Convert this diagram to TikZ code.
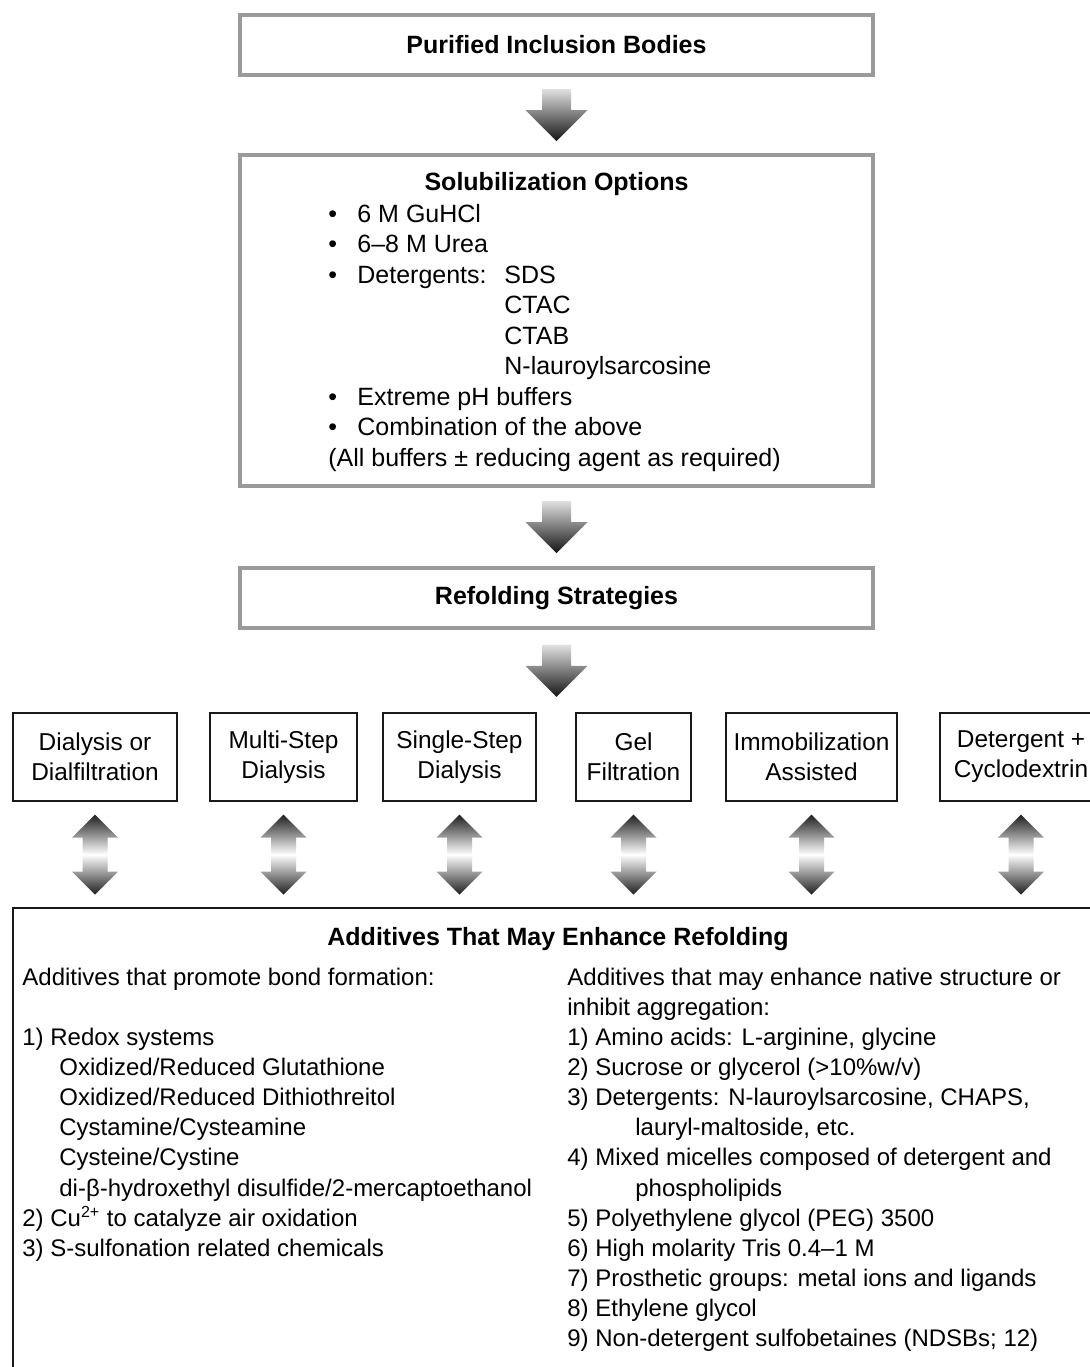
\documentclass[tikz,border=0pt]{standalone}
\usepackage{fontspec}
\setmainfont{Liberation Sans}
\usetikzlibrary{calc}
\definecolor{boxgray}{HTML}{9A9A9A}
\tikzset{>=latex}

\begin{document}
\begin{tikzpicture}[x=0.5pt, y=-0.5pt,
  title/.style={inner sep=0pt, font=\fontsize{12.5}{15.25}\selectfont\bfseries},
  graybox/.style={title, draw=boxgray, line width=2pt, minimum width=316.5pt},
  blackbox/.style={draw=black!90, line width=1.1pt, inner sep=0pt, minimum height=44pt, align=center, font=\fontsize{12.2}{15}\selectfont},
  body/.style={inner sep=0pt, anchor=north west, align=left, font=\fontsize{12}{15.05}\selectfont},
  down/.style={top color=black!12, bottom color=black!92},
  updown/.style={top color=black!88, bottom color=black!88, middle color=white}]
\path[use as bounding box, clip] (0,0) rectangle (1090,1367);
\fill[white] (0,0) rectangle (1090,1367);

\node[graybox, minimum height=30pt] (pib) at (556.5,45) {Purified Inclusion Bodies};
\node[graybox, minimum height=165.5pt] (sol) at (556.5,320.5) {};
\node[title, anchor=base] (solt) at (556.5,190.5) {Solubilization Options};
\node[body, font=\fontsize{12.5}{15.25}\selectfont] (soll) at (328,200.6)
{\strut\makebox[14.5pt][l]{\textbullet}6 M GuHCl\\
\makebox[14.5pt][l]{\textbullet}6–8 M Urea\\
\makebox[14.5pt][l]{\textbullet}\makebox[73.5pt][l]{Detergents:}SDS\\
\hspace*{88pt}CTAC\\
\hspace*{88pt}CTAB\\
\hspace*{88pt}N-lauroylsarcosine\\
\makebox[14.5pt][l]{\textbullet}Extreme pH buffers\\
\makebox[14.5pt][l]{\textbullet}Combination of the above\\
(All buffers ± reducing agent as required)};
\node[graybox, minimum height=30pt] (rfs) at (556.5,598) {Refolding Strategies};

\node[blackbox, minimum width=82pt] (dia) at (95,757) {Dialysis or\\Dialfiltration};
\node[blackbox, minimum width=73.5pt] (mst) at (283.5,757) {Multi-Step\\Dialysis};
\node[blackbox, minimum width=76.5pt] (sst) at (459.5,757) {Single-Step\\Dialysis};
\node[blackbox, minimum width=57.5pt] (gel) at (633.5,757) {Gel\\Filtration};
\node[blackbox, minimum width=85.5pt] (imm) at (811.5,757) {Immobilization\\Assisted};
\node[blackbox, minimum width=81pt] (dcy) at (1021,757) {Detergent +\\Cyclodextrin};

\node[blackbox, minimum width=548.5pt, minimum height=246pt] (add) at (561.5,1154) {};
\node[title, anchor=base] (addt) at (558,945) {Additives That May Enhance Refolding};
\node[body] (addl) at (22,963.9)
{\strut Additives that promote bond formation:\\[15.05pt]
1) Redox systems\\
\hspace*{18.5pt}Oxidized/Reduced Glutathione\\
\hspace*{18.5pt}Oxidized/Reduced Dithiothreitol\\
\hspace*{18.5pt}Cystamine/Cysteamine\\
\hspace*{18.5pt}Cysteine/Cystine\\
\hspace*{18.5pt}di-β-hydroxethyl disulfide/2-mercaptoethanol\\
2) Cu\textsuperscript{2+} to catalyze air oxidation\\
3) S-sulfonation related chemicals};
\node[body] (addr) at (567,963.9)
{\strut Additives that may enhance native structure or\\
inhibit aggregation:\\
1) Amino acids: L-arginine, glycine\\
2) Sucrose or glycerol (>10\%w/v)\\
3) Detergents: N-lauroylsarcosine, CHAPS,\\
\hspace*{34pt}lauryl-maltoside, etc.\\
4) Mixed micelles composed of detergent and\\
\hspace*{34pt}phospholipids\\
5) Polyethylene glycol (PEG) 3500\\
6) High molarity Tris 0.4–1 M\\
7) Prosthetic groups: metal ions and ligands\\
8) Ethylene glycol\\
9) Non-detergent sulfobetaines (NDSBs; 12)};

\foreach \a/\b in {pib/sol, sol/rfs, rfs/sst}
  \path[down] ($(\a.south)!.5!(\a.south |- \b.north)$) ++(-14.5,-26) -- ++(29,0) -- ++(0,21) -- ++(16.5,0)
    -- ++(-31,31) -- ++(-31,-31) -- ++(16.5,0) -- cycle;
\foreach \s in {dia,mst,sst,gel,imm,dcy}
  \path[updown] ($(\s.south)!.5!(\s.south |- add.north)$) ++(0,-40) -- ++(23,23) -- ++(-10.5,0) -- ++(0,34)
    -- ++(10.5,0) -- ++(-23,23) -- ++(-23,-23) -- ++(10.5,0) -- ++(0,-34) -- ++(-10.5,0) -- cycle;
\end{tikzpicture}
\end{document}
